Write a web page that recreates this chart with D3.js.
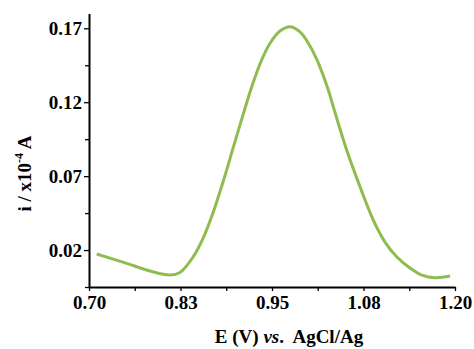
<!DOCTYPE html>
<html>
<head>
<meta charset="utf-8">
<script src="https://cdn.jsdelivr.net/npm/d3@7"></script>
<style>
    body { margin: 0; background: #fff; }
    svg text { font-family: "Liberation Serif", "Times New Roman", serif; font-weight: bold; }
</style>
</head>
<body>
<div id="chart"></div>
<script>
// potential (V) and current (x10^-4 A)
let potential = [0.7105, 0.7515, 0.7833, 0.8107, 0.8243, 0.8425, 0.8561, 0.8698, 0.8835, 0.8971,
    0.9108, 0.9227, 0.9359, 0.9473, 0.9609, 0.9753, 0.9882, 0.9997, 1.0115, 1.0269,
    1.0338, 1.0520, 1.0702, 1.0884, 1.1044, 1.1203, 1.1385, 1.1549, 1.1727, 1.1932];
let current = [0.0173, 0.0110, 0.0058, 0.0031, 0.0048, 0.0155, 0.0282, 0.0457, 0.0667, 0.0894,
    0.1121, 0.1310, 0.1486, 0.1599, 0.1682, 0.1711, 0.1675, 0.1599, 0.1486, 0.1283,
    0.1168, 0.0877, 0.0629, 0.0403, 0.0254, 0.0155, 0.0079, 0.0031, 0.0013, 0.0024];

// tick values and their labels
let xTicks = [0.70, 0.825, 0.95, 1.075, 1.20];
let xTickLabels = ["0.70", "0.83", "0.95", "1.08", "1.20"];
let xMinorTicks = [0.7625, 0.8875, 1.0125, 1.1375];
let yTicks = [0.02, 0.07, 0.12, 0.17];
let yTickLabels = ["0.02", "0.07", "0.12", "0.17"];
let yMinorTicks = [-0.005, 0.045, 0.095, 0.145];

let data = potential.map((d, i) => ({x: d, y: current[i]}));

let svg = d3.select("#chart")
    .append("svg")
    .attr("width", 474)
    .attr("height", 349);

// scales
let x = d3.scaleLinear()
    .domain([0.70, 1.20])
    .range([89, 455]);

let y = d3.scaleLinear()
    .domain([-0.005, 0.18])
    .range([287, 13.5]);

// minor ticks first, so the major ones sit on top
svg.append("g")
    .attr("transform", "translate(0, 287)")
    .call(d3.axisBottom(x).tickValues(xMinorTicks).tickSize(4).tickFormat(""))
    .call(g => g.select(".domain").remove());

svg.append("g")
    .attr("transform", "translate(89, 0)")
    .call(d3.axisLeft(y).tickValues(yMinorTicks).tickSize(4).tickFormat(""))
    .call(g => g.select(".domain").remove());

// x axis
svg.append("g")
    .attr("class", "x-axis")
    .attr("transform", "translate(0, 287)")
    .call(d3.axisBottom(x)
        .tickValues(xTicks)
        .tickSize(4)
        .tickSizeOuter(0)
        .tickPadding(5)
        .tickFormat((d, i) => xTickLabels[i]));

// y axis
svg.append("g")
    .attr("class", "y-axis")
    .attr("transform", "translate(89, 0)")
    .call(d3.axisLeft(y)
        .tickValues(yTicks)
        .tickSize(5)
        .tickSizeOuter(0)
        .tickPadding(2)
        .tickFormat((d, i) => yTickLabels[i]));

svg.selectAll(".domain")
    .attr("stroke", "#000")
    .attr("stroke-width", 2);

svg.selectAll(".tick line")
    .attr("stroke", "#000")
    .attr("stroke-width", 1.3);

svg.selectAll(".x-axis text, .y-axis text")
    .attr("fill", "#000")
    .style("font-size", "19px");

// the curve
let line = d3.line()
    .x(d => x(d.x))
    .y(d => y(d.y))
    .curve(d3.curveCatmullRom.alpha(0.5));

svg.append("path")
    .datum(data)
    .attr("d", line)
    .attr("fill", "none")
    .attr("stroke", "#8fbc4e")
    .attr("stroke-width", 3);

// axis titles
let xTitle = svg.append("text")
    .attr("x", 289)
    .attr("y", 343)
    .attr("text-anchor", "middle")
    .style("font-size", "19px");
xTitle.append("tspan").text("E (V) ");
xTitle.append("tspan").style("font-style", "italic").text("vs");
xTitle.append("tspan").text(".\u00a0 AgCl/Ag");

let yTitle = svg.append("text")
    .attr("transform", "translate(31, 173.5) rotate(-90)")
    .attr("text-anchor", "middle")
    .style("font-size", "19px");
yTitle.append("tspan").text("i / x10");
yTitle.append("tspan").attr("dy", -8).style("font-size", "12px").text("-4");
yTitle.append("tspan").attr("dy", 8).text(" A");
</script>
</body>
</html>
